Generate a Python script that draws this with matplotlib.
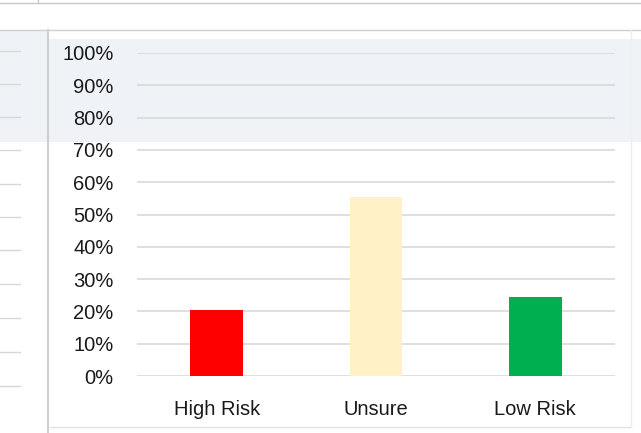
import matplotlib
matplotlib.use("Agg")
import matplotlib.pyplot as plt
from matplotlib.patches import Rectangle
from matplotlib.lines import Line2D

categories = ["High Risk", "Unsure", "Low Risk"]
values = [20.4, 55.5, 24.5]
colors = ["#FF0000", "#FFF0C6", "#00B050"]
yticks = [0, 10, 20, 30, 40, 50, 60, 70, 80, 90, 100]
ytick_labels = [f"{v}%" for v in yticks]

W, H = 641, 433
fig = plt.figure(figsize=(W / 100, H / 100), dpi=100)
fig.patch.set_facecolor("white")

def fx(px):
    return px / W

def fy(py):
    return 1 - py / H

# background axes for screenshot surroundings
bg = fig.add_axes([0, 0, 1, 1], zorder=0)
bg.set_xlim(0, W)
bg.set_ylim(H, 0)
bg.axis("off")
bg.add_patch(Rectangle((0, 39), W, 103, facecolor="#EFF3F8", edgecolor="none", zorder=0))
bg.add_patch(Rectangle((0, 30), 47, 112, facecolor="#EFF3F8", edgecolor="none", zorder=0))
for (x0, y0, x1, y1, c, lw) in [
    (0, 3, 641, 3, "#C8C8C8", 1.0),
    (38, 0, 38, 3, "#C8C8C8", 1.0),
    (0, 29.5, 641, 29.5, "#D0D0D0", 1.0),
    (47.5, 30, 47.5, 433, "#CFCFCF", 1.5),
    (50, 427, 631, 427, "#E2E2E2", 1.0),
    (631, 30, 631, 427, "#EDEDED", 1.0),
]:
    bg.plot([x0, x1], [y0, y1], color=c, lw=lw, zorder=1)
for py in [51, 84, 117, 150, 184, 217, 250, 284, 318, 352, 386]:
    bg.plot([0, 20], [py, py], color="#D8D8D8", lw=1.0, zorder=1)

ax = fig.add_axes([fx(137), fy(376), fx(615) - fx(137), fy(53) - fy(376)], zorder=2)
ax.set_facecolor("none")
x = list(range(len(categories)))
ax.bar(x, values, width=0.33, color=colors, zorder=3)
ax.set_xlim(-0.5, 2.5)
ax.set_ylim(0, 100)
ax.set_yticks(yticks)
ax.set_yticklabels(ytick_labels)
ax.set_xticks(x)
ax.set_xticklabels(categories)
ax.yaxis.grid(True, color="#D9D9D9", lw=1.2, zorder=0)
ax.set_axisbelow(True)
for s in ax.spines.values():
    s.set_visible(False)
ax.tick_params(axis="both", length=0, labelsize=14.5, labelcolor="#1A1A1A",
               labelfontfamily="Liberation Sans")
ax.tick_params(axis="y", pad=17)
ax.tick_params(axis="x", pad=17)

fig.savefig("out.png", dpi=100)
